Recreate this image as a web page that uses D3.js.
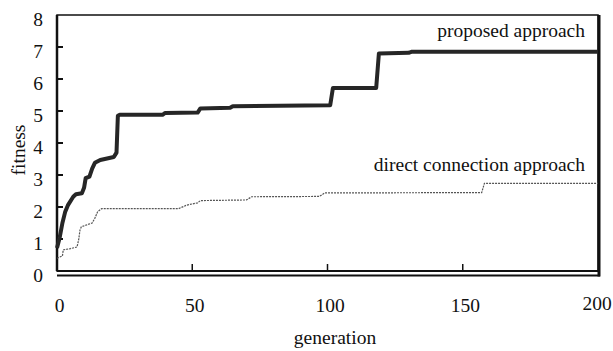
<!DOCTYPE html>
<html>
<head>
<meta charset="utf-8">
<script src="https://cdn.jsdelivr.net/npm/d3@7"></script>
<style>
  body { margin: 0; background: #fff; }
  text { font-family: "Liberation Serif", "Times New Roman", serif; fill: #111; }
</style>
</head>
<body>
<script>
// data: [generation, fitness]
const proposed = [
  [0, 0.72], [1, 1.05], [2, 1.5], [3, 1.84], [4, 2.05], [6, 2.32], [7, 2.4], [9.2, 2.43],
  [10, 2.6], [10.6, 2.9], [12, 2.95], [13, 3.2], [14, 3.38], [16, 3.47], [21, 3.56],
  [22, 3.7], [22.5, 4.85], [23.2, 4.88], [39, 4.88], [40, 4.94], [52, 4.95], [53, 5.08],
  [64, 5.1], [65, 5.15], [101, 5.18], [102, 5.72], [118, 5.72], [119, 6.8], [130, 6.82],
  [131, 6.85], [200, 6.85]
];
const direct = [
  [0, 0.4], [2, 0.47], [2.3, 0.66], [5, 0.7], [7.4, 0.75], [8, 0.97], [8.5, 1.28], [9, 1.38],
  [13, 1.5], [14, 1.65], [15, 1.85], [16.5, 1.95], [45, 1.95], [48, 2.06], [52, 2.13],
  [53, 2.2], [70, 2.22], [72, 2.32], [97, 2.33], [99, 2.44], [157, 2.45], [158, 2.74], [200, 2.74]
];
const xTicks = [0, 50, 100, 150, 200];
const yTicks = [0, 1, 2, 3, 4, 5, 6, 7, 8];
const seriesLabels = ["proposed approach", "direct connection approach"];

const W = 613, H = 351;
const mLeft = 57, mRight = 598, mTop = 15, mBottom = 271;
const fs = "19.5px";

let svg = d3.select("body").append("svg").attr("width", W).attr("height", H);

let x = d3.scaleLinear().domain([0, 200]).range([mLeft, mRight]);
let y = d3.scaleLinear().domain([0, 8]).range([mBottom, mTop]);

// Rahmen mit Schatten unten/rechts
svg.append("rect")
  .attr("x", mLeft).attr("y", mTop)
  .attr("width", mRight - mLeft).attr("height", mBottom - mTop)
  .attr("fill", "none").attr("stroke", "#111").attr("stroke-width", 1.5);
svg.append("line").attr("x1", mLeft).attr("x2", mLeft).attr("y1", mTop).attr("y2", mBottom)
  .attr("stroke", "#111").attr("stroke-width", 2.5);
svg.append("line").attr("x1", mLeft).attr("x2", mRight).attr("y1", mBottom).attr("y2", mBottom)
  .attr("stroke", "#111").attr("stroke-width", 2);
svg.append("line").attr("x1", mLeft).attr("x2", mRight + 2).attr("y1", mBottom + 4.5).attr("y2", mBottom + 4.5)
  .attr("stroke", "#111").attr("stroke-width", 2);
svg.append("line").attr("x1", mRight + 1).attr("x2", mRight + 1).attr("y1", mTop).attr("y2", mBottom + 5.5)
  .attr("stroke", "#111").attr("stroke-width", 3);

// y ticks (nach innen)
svg.selectAll(".ytick").data(yTicks.slice(1, -1)).enter().append("line")
  .attr("x1", mLeft).attr("x2", mLeft + 6)
  .attr("y1", (d) => y(d)).attr("y2", (d) => y(d))
  .attr("stroke", "#111").attr("stroke-width", 2);

svg.selectAll(".ylab").data(yTicks).enter().append("text")
  .attr("x", 43).attr("y", (d) => y(d) + 11)
  .attr("text-anchor", "end").style("font-size", fs)
  .text((d) => d);

// x ticks (nach oben)
svg.selectAll(".xtick").data(xTicks.slice(1, -1)).enter().append("line")
  .attr("x1", (d) => x(d)).attr("x2", (d) => x(d))
  .attr("y1", mBottom).attr("y2", mBottom - 7)
  .attr("stroke", "#111").attr("stroke-width", 1.5);

svg.selectAll(".xlab").data(xTicks).enter().append("text")
  .attr("x", (d) => x(d) + (d === 200 ? -1 : 2.5)).attr("y", (d) => (d === 200 ? 310 : 312))
  .attr("text-anchor", "middle").style("font-size", fs)
  .text((d) => d);

// Achsentitel
svg.append("text").attr("x", 335).attr("y", 344)
  .attr("text-anchor", "middle").style("font-size", fs).text("generation");
svg.append("text").attr("transform", "translate(25,150) rotate(-90)")
  .attr("text-anchor", "middle").style("font-size", fs).text("fitness");

// Linien
let line = d3.line().x((d) => x(d[0])).y((d) => y(d[1]));

svg.append("path").datum(direct)
  .attr("d", line).attr("fill", "none")
  .attr("stroke", "#555").attr("stroke-width", 1.2)
  .attr("stroke-dasharray", "2,1");

svg.append("path").datum(proposed)
  .attr("d", line).attr("fill", "none")
  .attr("stroke", "#262626").attr("stroke-width", 4)
  .attr("stroke-linejoin", "round");

// Beschriftungen der Kurven
svg.append("text").attr("x", 585).attr("y", 37)
  .attr("text-anchor", "end").style("font-size", fs).text(seriesLabels[0]);
svg.append("text").attr("x", 585).attr("y", 171)
  .attr("text-anchor", "end").style("font-size", fs).text(seriesLabels[1]);
</script>
</body>
</html>
